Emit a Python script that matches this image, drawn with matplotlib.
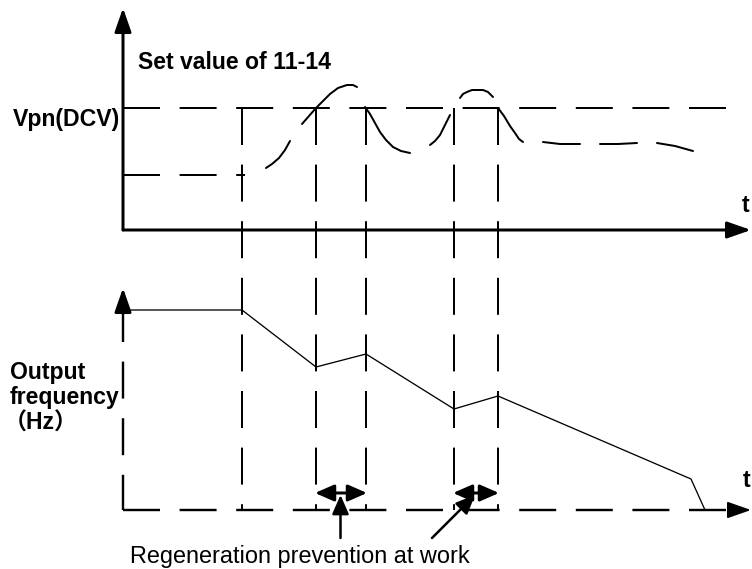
import matplotlib.pyplot as plt
from matplotlib.patches import ArrowStyle

plt.rcParams['lines.scale_dashes'] = False
plt.rcParams['font.family'] = ['Liberation Sans', 'Noto Sans CJK SC', 'DejaVu Sans']

PX = 72 / 100  # one screen pixel in points

# layout of the two panels (screen units, y grows downwards)
T0 = 123
T_END = 752
VOLT_AXIS_Y = 230
FREQ_AXIS_Y = 510
VOLT_TOP = 8
FREQ_TOP = 288

# DC bus voltage levels
VPN_LEVEL = 108
START_LEVEL = 175

# instants where the stall prevention switches on / off
EVENT_T = [242, 316, 366, 454, 498]

# output frequency trace
FREQ_T = [123, 242, 316, 366, 454, 498, 691, 705]
FREQ_Y = [310, 310, 367, 354, 409, 396, 479, 510]

# DC bus voltage, sketched as broken strokes
VOLT_STROKES = [
    ([266, 272, 279, 285, 290], [168, 164, 158, 150, 141]),
    ([302, 309, 316, 323, 330, 338, 347, 353, 357], [124, 116, 108, 101, 94, 88, 85, 85, 87]),
    ([365, 370, 375, 380, 386, 393, 401, 410], [107, 114, 123, 132, 140, 147, 151, 153]),
    ([430, 435, 440, 445, 450], [145, 141, 135, 125, 115]),
    ([460, 463, 467, 472, 477, 483, 488, 493], [98, 94, 92, 90, 90, 90, 92, 97]),
    ([498, 504, 510, 515, 519, 523], [108, 116, 126, 133, 139, 142]),
    ([543, 560, 580], [142, 144, 144]),
    ([600, 618, 637], [144, 144, 143]),
    ([657, 675, 693], [143, 146, 151]),
]

WORK_WINDOWS = [(EVENT_T[1], EVENT_T[2]), (EVENT_T[3], EVENT_T[4])]
WORK_Y = 493
NOTE_XY = (130, 563)

DASH = (0, (37 * PX, 19.6 * PX))
AXIS_LW = 3 * PX
DASH_LW = 2 * PX


def head(ax, tail, tip, length=20, width=7, lw=AXIS_LW, style='-|>'):
    arrow = ArrowStyle(style, head_length=length * PX / 10, head_width=width * PX / 10)
    ax.annotate('', xy=tip, xytext=tail,
                arrowprops=dict(arrowstyle=arrow, mutation_scale=10, lw=lw,
                                color='k', shrinkA=0, shrinkB=0))


fig = plt.figure(figsize=(7.52, 5.69), dpi=100)
ax = fig.add_axes([0, 0, 1, 1])
ax.set_xlim(0, 752)
ax.set_ylim(569, 0)
ax.axis('off')

# voltage panel axes
head(ax, (T0, VOLT_AXIS_Y), (T0, VOLT_TOP))
head(ax, (T0, VOLT_AXIS_Y), (T_END - 1, VOLT_AXIS_Y))

# frequency panel axes (dashed)
ax.plot([T0, T0], [FREQ_TOP + 17, FREQ_AXIS_Y], color='k', lw=DASH_LW * 1.2, ls=DASH)
ax.plot([T0, T_END - 19], [FREQ_AXIS_Y, FREQ_AXIS_Y], color='k', lw=DASH_LW * 1.2, ls=DASH)
head(ax, (T0, FREQ_TOP + 22), (T0, FREQ_TOP))
head(ax, (T_END - 22, FREQ_AXIS_Y), (T_END - 1, FREQ_AXIS_Y), lw=DASH_LW)

# reference levels
ax.plot([T0, 728], [VPN_LEVEL, VPN_LEVEL], color='k', lw=DASH_LW, ls=DASH)
ax.plot([T0, EVENT_T[0] + 3], [START_LEVEL, START_LEVEL], color='k', lw=DASH_LW, ls=DASH)

# event markers through both panels
for t in EVENT_T:
    ax.plot([t, t], [VPN_LEVEL, FREQ_AXIS_Y], color='k', lw=DASH_LW, ls=DASH)

for xs, ys in VOLT_STROKES:
    ax.plot(xs, ys, color='k', lw=2 * PX, solid_capstyle='round', solid_joinstyle='round')

ax.plot(FREQ_T, FREQ_Y, color='k', lw=1.3 * PX)

# intervals where regeneration prevention is active
for a, b in WORK_WINDOWS:
    arrow = ArrowStyle('<|-|>', head_length=16 * PX / 10, head_width=7 * PX / 10)
    ax.annotate('', xy=(b + 1, WORK_Y), xytext=(a - 1, WORK_Y),
                arrowprops=dict(arrowstyle=arrow, mutation_scale=10, lw=3 * PX,
                                color='k', shrinkA=0, shrinkB=0))

mid = (WORK_WINDOWS[0][0] + WORK_WINDOWS[0][1]) / 2 - 0.5
head(ax, (mid, 538), (mid, WORK_Y + 2), length=16, width=7, lw=2.5 * PX)
head(ax, (432, 538), (WORK_WINDOWS[1][0] + 21, WORK_Y + 2), length=16, width=7, lw=2.5 * PX)

bold = dict(fontsize=23 * PX, fontweight='bold', va='baseline')
ax.text(138, 69, 'Set value of 11-14', **bold)
ax.text(13, 126, 'Vpn(DCV)', **bold)
ax.text(10, 379, 'Output', **bold)
ax.text(10, 404, 'frequency', **bold)
ax.text(4, 430, '（Hz）', **bold)
ax.text(742, 212, 't', **bold)
ax.text(743, 487, 't', **bold)
ax.text(NOTE_XY[0], NOTE_XY[1], 'Regeneration prevention at work',
        fontsize=23.5 * PX, va='baseline')

fig.savefig('out.png', dpi=100)
